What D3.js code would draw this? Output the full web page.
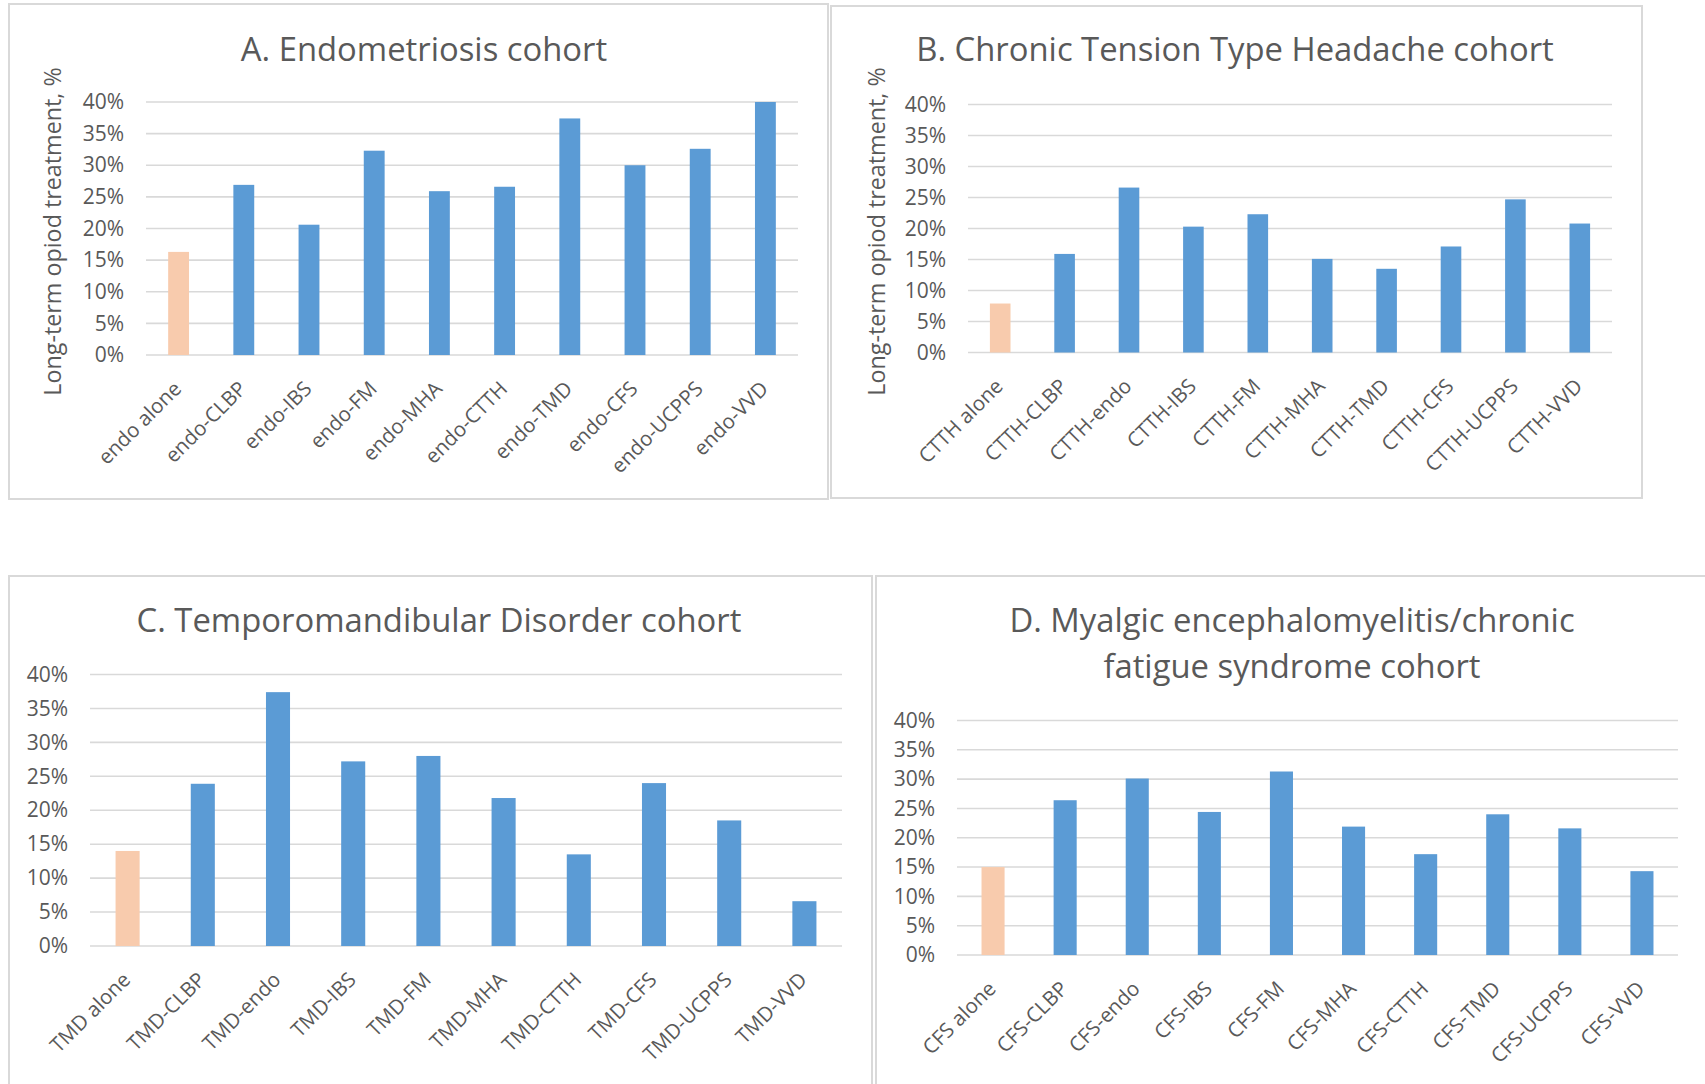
<!DOCTYPE html>
<html>
<head>
<meta charset="utf-8">
<script src="https://cdn.jsdelivr.net/npm/d3@7"></script>
<style>
  html, body { margin: 0; padding: 0; background: #ffffff; }
  svg { display: block; }
  text { font-family: "Open Sans", "Noto Sans", sans-serif; fill: #595959; }
</style>
</head>
<body>
<svg id="chart" width="1705" height="1084"></svg>
<script>
// ---------------- DATA ----------------
const yTicks = [0, 5, 10, 15, 20, 25, 30, 35, 40];

const titleA = ["A. Endometriosis cohort"];
const catsA = ["endo alone", "endo-CLBP", "endo-IBS", "endo-FM", "endo-MHA", "endo-CTTH", "endo-TMD", "endo-CFS", "endo-UCPPS", "endo-VVD"];
const valsA = [16.3, 26.9, 20.6, 32.3, 25.9, 26.6, 37.4, 30.0, 32.6, 40.0];

const titleB = ["B. Chronic Tension Type Headache cohort"];
const catsB = ["CTTH alone", "CTTH-CLBP", "CTTH-endo", "CTTH-IBS", "CTTH-FM", "CTTH-MHA", "CTTH-TMD", "CTTH-CFS", "CTTH-UCPPS", "CTTH-VVD"];
const valsB = [7.9, 15.9, 26.6, 20.3, 22.3, 15.1, 13.5, 17.1, 24.7, 20.8];

const titleC = ["C. Temporomandibular Disorder cohort"];
const catsC = ["TMD alone", "TMD-CLBP", "TMD-endo", "TMD-IBS", "TMD-FM", "TMD-MHA", "TMD-CTTH", "TMD-CFS", "TMD-UCPPS", "TMD-VVD"];
const valsC = [14.0, 23.9, 37.4, 27.2, 28.0, 21.8, 13.5, 24.0, 18.5, 6.6];

const titleD = ["D. Myalgic encephalomyelitis/chronic", "fatigue syndrome cohort"];
const catsD = ["CFS alone", "CFS-CLBP", "CFS-endo", "CFS-IBS", "CFS-FM", "CFS-MHA", "CFS-CTTH", "CFS-TMD", "CFS-UCPPS", "CFS-VVD"];
const valsD = [15.0, 26.4, 30.1, 24.4, 31.3, 21.9, 17.2, 24.0, 21.6, 14.3];

const yTitle = "Long-term opiod treatment, %";

// ---------------- STYLE / LAYOUT ----------------
const BLUE = "#5B9BD5", PEACH = "#F8CBAD", GRID = "#D9D9D9", BORDER = "#D9D9D9";

const panels = [
  { title: titleA, cats: catsA, vals: valsA, box: [9, 4, 819, 495], plot: [146, 102, 798, 355], titleX: 424, titleY: 61, yTitle: true, yTitleX: 53 },
  { title: titleB, cats: catsB, vals: valsB, box: [831, 6, 811, 492], plot: [968, 104.5, 1612, 352.5], titleX: 1235, titleY: 61, yTitle: true, yTitleX: 877 },
  { title: titleC, cats: catsC, vals: valsC, box: [9, 576, 863, 540], plot: [90, 674.5, 842, 946], titleX: 439, titleY: 632, yTitle: false },
  { title: titleD, cats: catsD, vals: valsD, box: [876, 576, 860, 540], plot: [957, 720.5, 1678, 955], titleX: 1292, titleY: 632, yTitle: false }
];

const svg = d3.select("#chart");

panels.forEach(p => {
  const g = svg.append("g");
  const [bx, by, bw, bh] = p.box;
  g.append("rect")
    .attr("x", bx).attr("y", by).attr("width", bw).attr("height", bh)
    .attr("fill", "#ffffff").attr("stroke", BORDER).attr("stroke-width", 2);

  const [x0, y0, x1, y1] = p.plot;
  const x = d3.scaleBand().domain(p.cats).range([x0, x1]).paddingInner(0.68).paddingOuter(0.34);
  const y = d3.scaleLinear().domain([0, 40]).range([y1, y0]);

  // gridlines
  g.append("g").selectAll("line").data(yTicks).join("line")
    .attr("x1", x0).attr("x2", x1)
    .attr("y1", d => y(d)).attr("y2", d => y(d))
    .attr("stroke", GRID).attr("stroke-width", 1.6);

  // y axis labels via d3 axis
  const yAxis = d3.axisLeft(y).tickValues(yTicks).tickFormat(d => d + "%").tickSize(0).tickPadding(22);
  const ya = g.append("g").attr("transform", `translate(${x0},0)`).call(yAxis);
  ya.select(".domain").remove();
  ya.selectAll("text").style("font-size", "21px").attr("fill", "#595959")
    .style("font-family", '"Open Sans", sans-serif');

  // bars
  g.append("g").selectAll("rect").data(p.vals).join("rect")
    .attr("x", (d, i) => x(p.cats[i]))
    .attr("width", x.bandwidth())
    .attr("y", d => y(d))
    .attr("height", d => y(0) - y(d))
    .attr("fill", (d, i) => i === 0 ? PEACH : BLUE);

  // x labels
  g.append("g").selectAll("text").data(p.cats).join("text")
    .attr("transform", d => `translate(${x(d) + x.bandwidth() / 2 + 4},${y1 + 35}) rotate(-45)`)
    .attr("text-anchor", "end")
    .style("font-size", "20.5px")
    .text(d => d);

  // title
  g.append("text")
    .attr("x", p.titleX).attr("y", p.titleY)
    .attr("text-anchor", "middle")
    .style("font-size", "32.8px")
    .selectAll("tspan").data(p.title).join("tspan")
    .attr("x", p.titleX)
    .attr("dy", (d, i) => i === 0 ? 0 : 45.5)
    .text(d => d);

  // y title
  if (p.yTitle) {
    const cy = (y0 + y1) / 2 + 3;
    g.append("text")
      .attr("transform", `translate(${p.yTitleX + 8},${cy}) rotate(-90)`)
      .attr("text-anchor", "middle")
      .style("font-size", "23.3px")
      .text(yTitle);
  }
});
</script>
</body>
</html>
